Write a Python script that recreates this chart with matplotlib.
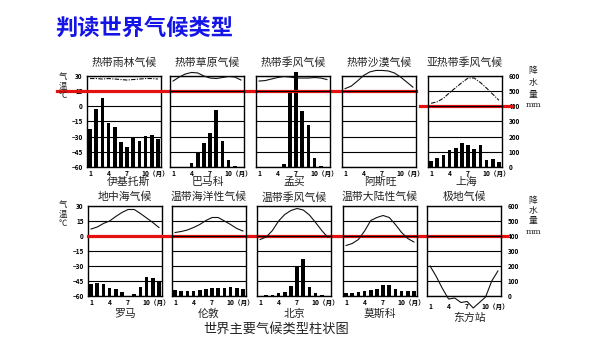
import matplotlib.pyplot as plt
import matplotlib.transforms as mtransforms

plt.rcParams['font.family'] = ['Noto Sans CJK SC', 'DejaVu Sans']

W, H = 600, 338

months = list(range(1, 13))

# ---- 上排：热带、亚热带 ----
titles_top = ["热带雨林气候", "热带草原气候", "热带季风气候", "热带沙漠气候", "亚热带季风气候"]
cities_top = ["伊基托斯", "巴马科", "孟买", "阿斯旺", "上海"]

temp_iquitos = [27.5, 27.5, 27, 27.5, 27, 26.5, 26, 26.5, 27, 27.5, 27.5, 27]
prec_iquitos = [250, 380, 458, 290, 267, 162, 133, 196, 173, 207, 213, 184]

temp_bamako = [25, 29, 32, 33.5, 33, 30, 28, 27.5, 28.5, 29.5, 29, 26]
prec_bamako = [0, 1, 3, 25, 100, 155, 222, 378, 170, 45, 8, 0]

temp_mumbai = [25, 25.5, 27, 28.5, 29.5, 29, 28, 28, 28, 28.5, 28, 26.5]
prec_mumbai = [0, 0, 0, 1, 18, 490, 625, 367, 278, 62, 5, 0]

temp_aswan = [17.5, 20, 25, 30.5, 34, 35.5, 35.5, 35, 33, 29, 24, 19]
prec_aswan = [0, 0, 0, 0, 0, 0, 0, 0, 0, 0, 0, 0]

temp_shanghai = [3, 4.5, 8, 13.5, 18.5, 23.5, 28, 28, 23.5, 18, 12, 6]
prec_shanghai = [40, 58, 78, 111, 122, 155, 147, 118, 147, 47, 51, 33]

# ---- 下排：温带、寒带 ----
titles_bot = ["地中海气候", "温带海洋性气候", "温带季风气候", "温带大陆性气候", "极地气候"]
cities_bot = ["罗马", "伦敦", "北京", "莫斯科", "东方站"]

temp_rome = [7, 9, 12.5, 15, 19.5, 23.5, 26.5, 26.5, 22.5, 18, 13.5, 8.5]
prec_rome = [80, 88, 78, 56, 49, 29, 0, 16, 63, 125, 118, 93]

temp_london = [3.5, 4.5, 6, 8.5, 11.5, 15.5, 18.5, 18.5, 15, 11.5, 7.5, 5]
prec_london = [40, 31, 33, 31, 40, 44, 56, 53, 51, 62, 51, 44]

temp_beijing = [-3.5, -1, 5.5, 15, 21.5, 25.5, 27.5, 26, 21, 13.5, 5.5, -1.5]
prec_beijing = [3, 5, 8, 18, 29, 67, 200, 244, 60, 18, 7, 3]

temp_moscow = [-9.5, -7.5, -3.5, 5, 15.5, 18.5, 20.5, 18.5, 11.5, 3.5, -2.5, -6]
prec_moscow = [20, 18, 24, 31, 42, 44, 73, 73, 49, 33, 36, 33]

temp_vostok = [-30, -40.5, -52.5, -63, -62, -66.5, -65.5, -72, -66.5, -61, -45, -35]
prec_vostok = [0, 0, 0, 0, 0, 0, 0, 0, 0, 0, 0, 0]

temps_top = [temp_iquitos, temp_bamako, temp_mumbai, temp_aswan, temp_shanghai]
precs_top = [prec_iquitos, prec_bamako, prec_mumbai, prec_aswan, prec_shanghai]
temps_bot = [temp_rome, temp_london, temp_beijing, temp_moscow, temp_vostok]
precs_bot = [prec_rome, prec_london, prec_beijing, prec_moscow, prec_vostok]

temp_ticks = [30, 15, 0, -15, -30, -45, -60]
temp_labels = ["30", "15", "0", "−15", "−30", "−45", "−60"]
prec_ticks = [600, 500, 400, 300, 200, 100, 0]

# 面板位置（像素）
lefts_top = [87, 170, 256, 342, 428]
lefts_bot = [88, 172, 257, 343, 427]
box_w = 74
rows = [(76, 167), (206, 296)]   # (top, bottom)
title_y = [63, 197]

fig = plt.figure(figsize=(W / 100, H / 100), dpi=100)


def px_rect(left, top, bottom, width):
    return [left / W, 1 - bottom / H, width / W, (bottom - top) / H]


def fx(x):
    return x / W


def fy(y):
    return 1 - y / H


def draw_panel(left, top, bottom, temps, precs, title, ty, style='-',
               left_axis=False, right_axis=False, xlab_dy=0):
    ax = fig.add_axes(px_rect(left, top, bottom, box_w))
    ax.set_xlim(0.5, 12.5)
    ax.set_ylim(-60, 30)
    ax.set_yticks(temp_ticks)
    ax.grid(axis='y', color='black', lw=0.8)
    ax.set_xticks([])
    ax.tick_params(axis='y', length=0, pad=3, labelsize=4.6)
    if left_axis:
        ax.set_yticklabels(temp_labels, fontweight='bold')
    else:
        ax.set_yticklabels([])
    for s in ax.spines.values():
        s.set_linewidth(1.0)

    ax2 = ax.twinx()
    ax2.set_ylim(0, 600)
    ax2.set_yticks(prec_ticks)
    ax2.tick_params(axis='y', length=0, pad=5, labelsize=4.6)
    if right_axis:
        ax2.set_yticklabels([str(v) for v in prec_ticks], fontweight='bold')
    else:
        ax2.set_yticklabels([])
    for s in ax2.spines.values():
        s.set_visible(False)
    ax2.bar(months, precs, width=0.62, color='black', clip_on=False, zorder=2)
    ax.set_zorder(ax2.get_zorder() + 1)
    ax.patch.set_visible(False)
    ax.plot(months, temps, color='#111111', lw=0.8, ls=style, clip_on=False, zorder=3)

    # 月份标注
    trans = mtransforms.blended_transform_factory(ax.transData, ax.transAxes)
    for m in (1, 4, 7):
        ax.text(m, -0.07 - xlab_dy, str(m), transform=trans, ha='center', va='center',
                fontsize=4.8, fontweight='bold')
    ax.text(9.3, -0.07 - xlab_dy, "10（月）", transform=trans, ha='left', va='center',
            fontsize=4.8, fontweight='bold')

    cx = left + box_w / 2
    fig.text(fx(cx), fy(ty), title, ha='center', va='center',
             fontsize=7.8, color='#222222')
    return ax, ax2, cx


# 上排
axes_top = []
for i in range(5):
    top, bottom = rows[0]
    ax, ax2, cx = draw_panel(lefts_top[i], top, bottom, temps_top[i], precs_top[i],
                             titles_top[i], title_y[0],
                             style=(0, (4, 1.2, 1, 1.2)) if i in (0, 4) else '-',
                             left_axis=(i == 0), right_axis=(i == 4))
    fig.text(fx(cx + (5 if i == 0 else 1)), fy(182), cities_top[i], ha='center', va='center',
             fontsize=7.8, color='#222222')
    axes_top.append((ax, ax2))

# 下排
axes_bot = []
for i in range(5):
    top, bottom = rows[1]
    ax, ax2, cx = draw_panel(lefts_bot[i], top, bottom, temps_bot[i], precs_bot[i],
                             titles_bot[i], title_y[1],
                             left_axis=(i == 0), right_axis=(i == 4),
                             xlab_dy=0.05 if i == 4 else 0)
    fig.text(fx(cx + (6 if i == 4 else 0)), fy(318 if i == 4 else 314), cities_bot[i],
             ha='center', va='center', fontsize=7.8, color='#222222')
    axes_bot.append((ax, ax2))

# 坐标轴说明
for ty, chars in ((76, "气"), (86, "温"), (96, "℃"), (205, "气"), (214, "温"), (224, "℃")):
    fig.text(fx(63), fy(ty), chars, ha='center', va='center', fontsize=6, color='#222222')
for ty, chars in ((71, "降"), (83, "水"), (94, "量"), (200, "降"), (211, "水"), (221, "量")):
    fig.text(fx(533), fy(ty), chars, ha='center', va='center', fontsize=6.3, color='#222222')
for ty in (105, 232):
    fig.text(fx(534), fy(ty), "mm", ha='center', va='center', fontsize=6, color='#222222',
             family='DejaVu Serif')

# 阈值红线：15℃、0℃、400mm
red = '#E51010'
ax0 = axes_top[0][0]
t = mtransforms.blended_transform_factory(fig.transFigure, ax0.transData)
ax0.plot([fx(57), fx(416)], [15, 15], transform=t, color=red, lw=2.3, clip_on=False, zorder=5)
ax5p = axes_top[4][1]
t = mtransforms.blended_transform_factory(fig.transFigure, ax5p.transData)
ax5p.plot([fx(420), fx(512)], [400, 400], transform=t, color=red, lw=2.3, clip_on=False, zorder=5)
axb = axes_bot[0][0]
t = mtransforms.blended_transform_factory(fig.transFigure, axb.transData)
axb.plot([fx(88), fx(507)], [0, 0], transform=t, color=red, lw=2.3, clip_on=False, zorder=5)

fig.text(fx(55), fy(28), "判读世界气候类型", ha='left', va='center', fontsize=16,
         fontweight='bold', color='#1414E6')
fig.text(fx(276), fy(329), "世界主要气候类型柱状图", ha='center', va='center',
         fontsize=9.5, color='#222222')

fig.savefig("out.png", dpi=100)
